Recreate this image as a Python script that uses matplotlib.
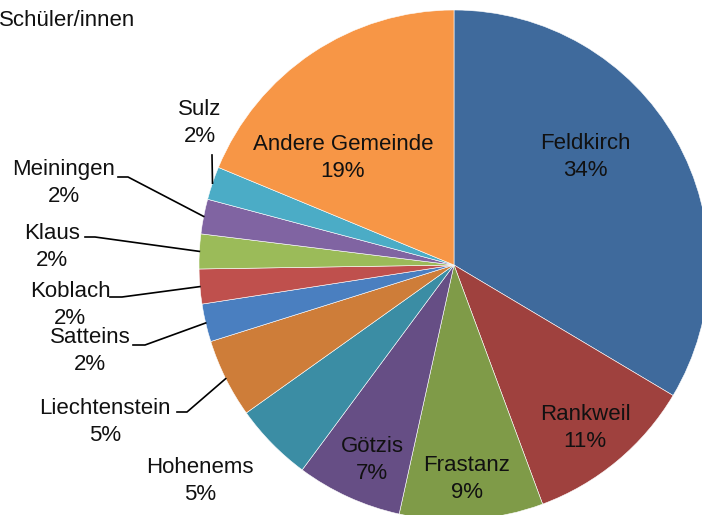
import numpy as np
import matplotlib
matplotlib.use("Agg")
import matplotlib.pyplot as plt

plt.rcParams['font.family'] = ['Liberation Sans Narrow', 'Liberation Sans', 'DejaVu Sans']

# data
gemeinden = ["Feldkirch", "Rankweil", "Frastanz", "Götzis", "Hohenems", "Liechtenstein",
             "Satteins", "Koblach", "Klaus", "Meiningen", "Sulz", "Andere Gemeinde"]
anteile = [33.55, 10.8, 9.1, 6.7, 5.0, 5.0, 2.4, 2.2, 2.2, 2.2, 2.1, 18.75]
farben = ["#3F6A9C", "#9F413E", "#7F9B48", "#664E85", "#3B8DA4", "#CE7D39",
          "#4A7FC0", "#BF504D", "#9BBB59", "#8064A2", "#4BACC6", "#F79646"]
titel = "Schüler/innen"

# layout (pixel coords, y from top)
W, H = 702, 515
cx, cy, rad = 454, 265, 255
inner_pos = {"Feldkirch": (585, 157), "Rankweil": (585, 428), "Frastanz": (467, 479),
             "Götzis": (372, 460), "Andere Gemeinde": (343, 158)}
outer_pos = {"Hohenems": (200, 481), "Liechtenstein": (105, 422), "Satteins": (90, 351),
             "Koblach": (70, 305), "Klaus": (52, 247), "Meiningen": (64, 183),
             "Sulz": (200, 123)}
# leader lines: start of line near the label, elbow end
leader = {"Liechtenstein": [(177, 412), (187, 412)],
          "Satteins": [(133, 345), (145, 345)],
          "Koblach": [(110, 297), (122, 297)],
          "Klaus": [(85, 237), (95, 237)],
          "Meiningen": [(118, 177), (128, 177)],
          "Sulz": [(212, 155)]}

fig = plt.figure(figsize=(W / 100, H / 100), dpi=100)
ax = fig.add_axes([0, 0, 1, 1])

wedges, _ = ax.pie(anteile, colors=farben, startangle=90, counterclock=False,
                   center=(cx, H - cy), radius=rad, frame=True,
                   wedgeprops=dict(edgecolor='white', linewidth=0.4))
ax.set_xlim(0, W)
ax.set_ylim(0, H)
ax.set_aspect('equal')
ax.axis('off')

fs = 16
for w, name, val in zip(wedges, gemeinden, anteile):
    label = f"{name}\n{val:.0f}%"
    if name in inner_pos:
        x, y = inner_pos[name]
    else:
        x, y = outer_pos[name]
    ax.text(x, H - y, label, ha='center', va='center', fontsize=fs,
            color='#111111', linespacing=1.4)
    if name in leader:
        ang = np.deg2rad((w.theta1 + w.theta2) / 2)
        ex = cx + rad * np.cos(ang)
        ey = (H - cy) + rad * np.sin(ang)
        pts = [(px, H - py) for px, py in leader[name]] + [(ex, ey)]
        xs, ys = zip(*pts)
        ax.plot(xs, ys, color='black', linewidth=1.2)

ax.text(-1, H - 20, titel, ha='left', va='center', fontsize=fs, color='#111111')

fig.savefig("out.png", dpi=100)
